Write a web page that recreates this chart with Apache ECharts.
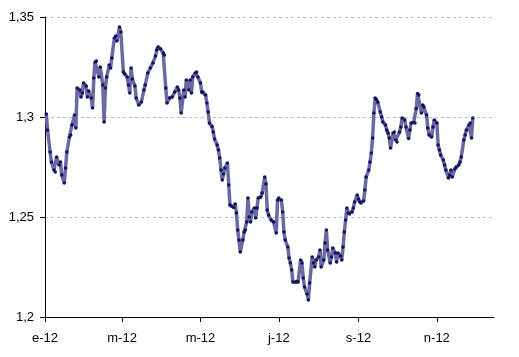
<!DOCTYPE html>
<html>
<head>
<meta charset="utf-8">
<script src="https://cdn.jsdelivr.net/npm/echarts@6/dist/echarts.min.js"></script>
<style>html,body{margin:0;padding:0;background:#fff}#c{width:519px;height:357px}</style>
</head>
<body>
<div id="c"></div>
<script>
// Day of year 2012 (0 = 1 Jan) for each observation
const days = [1,2,4,5,7,8,9,11,12,13,15,16,17,19,20,21,23,24,25,27,28,29,30,32,33,34,36,37,38,39,40,42,43,45,46,47,48,50,51,52,54,55,56,58,59,
61,62,64,65,66,67,68,70,71,73,75,77,78,80,82,84,86,87,88,90,92,93,94,95,97,99,101,103,104,105,106,108,109,110,112,113,114,115,117,118,119,121,122,123,125,
126,127,128,130,131,132,134,135,136,137,138,139,140,142,143,144,145,147,148,149,150,151,152,154,155,156,157,158,159,160,161,163,164,165,166,168,169,171,172,173,
174,176,178,180,181,182,184,185,186,187,189,190,191,192,193,195,196,197,199,200,201,202,204,205,206,208,209,210,211,213,214,215,217,218,219,220,222,223,224,226,
227,228,230,231,232,233,234,235,236,237,239,240,241,243,244,245,246,248,249,250,252,253,254,255,256,257,258,259,261,262,263,265,266,267,268,269,271,272,273,274,
276,277,278,280,281,283,284,285,287,288,289,290,291,293,294,295,297,298,299,301,302,303,305,306,307,308,310,311,312,314,315,316,317,319,320,322,323,324,326,327,
328,330,331,332,333];
// EUR/USD rate
const rates = [1.3015,1.2935,1.2825,1.2775,1.2735,1.2725,1.2800,1.2760,1.2775,1.2710,1.2670,1.2745,1.2825,1.2900,1.2910,1.2960,1.3010,1.2945,1.3145,1.3135,1.3100,1.3120,1.3170,1.3155,1.3100,1.3130,1.3095,1.3045,1.3195,1.3275,1.3280,1.3200,1.3250,1.3160,1.2975,1.3145,1.3200,1.3260,1.3245,1.3295,1.3395,1.3405,1.3380,1.3450,1.3425,
1.3225,1.3215,1.3200,1.3160,1.3120,1.3245,1.3190,1.3155,1.3095,1.3060,1.3075,1.3135,1.3160,1.3220,1.3245,1.3270,1.3305,1.3335,1.3350,1.3340,1.3320,1.3310,1.3145,1.3070,1.3095,1.3100,1.3125,1.3150,1.3135,1.3095,1.3020,1.3135,1.3100,1.3185,1.3135,1.3185,1.3120,1.3200,1.3220,1.3225,1.3200,1.3170,1.3125,1.3125,1.3110,
1.3070,1.3025,1.2970,1.2953,1.2925,1.2890,1.2860,1.2835,1.2795,1.2735,1.2685,1.2715,1.2745,1.2770,1.2660,1.2560,1.2555,1.2548,1.2565,1.2520,1.2435,1.2385,1.2325,1.2385,1.2425,1.2435,1.2475,1.2595,1.2500,1.2475,1.2525,1.2545,1.2495,1.2545,1.2595,1.2600,1.2620,1.2700,1.2665,1.2535,
1.2510,1.2485,1.2475,1.2420,1.2585,1.2595,1.2585,1.2525,1.2425,1.2385,1.2350,1.2295,1.2270,1.2235,1.2175,1.2175,1.2178,1.2175,1.2285,1.2270,1.2195,1.2150,1.2115,1.2085,1.2170,1.2300,1.2270,1.2250,1.2285,1.2300,1.2335,1.2250,1.2285,1.2370,1.2435,1.2335,1.2270,1.2300,1.2345,1.2320,
1.2275,1.2320,1.2305,1.2285,1.2350,1.2425,1.2485,1.2545,1.2520,1.2515,1.2525,1.2545,1.2575,1.2610,1.2590,1.2575,1.2570,1.2580,1.2635,1.2700,1.2735,1.2775,1.2820,1.2895,1.3020,1.3095,1.3088,1.3075,1.3025,1.3000,1.2975,1.2960,1.2935,1.2920,1.2895,1.2845,1.2920,1.2925,1.2885,1.2875,
1.2925,1.2950,1.2995,1.2985,1.2950,1.2893,1.2935,1.2970,1.2973,1.2970,1.3043,1.3118,1.3110,1.3020,1.3060,1.3050,1.3010,1.2945,1.2910,1.2900,1.2950,1.2985,1.2970,1.2860,1.2835,1.2810,1.2785,1.2760,1.2735,1.2695,1.2710,1.2735,1.2700,1.2740,1.2750,1.2760,1.2775,1.2800,1.2885,1.2910,
1.2935,1.2960,1.2970,1.2895,1.2995];
// x-axis ticks (day of year) and labels
const tickDays = [0, 60, 121, 182, 244, 305];
const tickLabels = ['e-12', 'm-12', 'm-12', 'j-12', 's-12', 'n-12'];
const axisEndDay = 349.5;

const seriesData = days.map((d, i) => [d, rates[i]]);
const chart = echarts.init(document.getElementById('c'), null, {renderer: 'canvas'});
const font = '"Liberation Sans", Arial, sans-serif';
chart.setOption({
  animation: false,
  backgroundColor: '#ffffff',
  grid: {left: 45, right: 25, top: 17, bottom: 40, containLabel: false},
  xAxis: {
    type: 'value', min: 0, max: axisEndDay,
    axisLine: {onZero: false, lineStyle: {color: '#000', width: 1}},
    axisTick: {show: true, length: 5, inside: false, customValues: tickDays, lineStyle: {color: '#000'}},
    axisLabel: {
      customValues: tickDays, margin: 15, color: '#000', fontSize: 13, fontFamily: font,
      formatter: v => { const i = tickDays.indexOf(Math.round(v)); return i >= 0 ? tickLabels[i] : ''; }
    },
    splitLine: {show: false}
  },
  yAxis: {
    type: 'value', min: 1.2, max: 1.35, interval: 0.05,
    axisLine: {show: true, lineStyle: {color: '#000', width: 1}},
    axisTick: {show: true, length: 5, lineStyle: {color: '#000'}},
    axisLabel: {margin: 11, color: '#000', fontSize: 13, fontFamily: font,
      formatter: v => String(parseFloat(v.toFixed(2))).replace('.', ',')},
    splitLine: {show: true, lineStyle: {color: '#bdbdbd', type: [3, 3], width: 1}}
  },
  series: [{
    type: 'line', data: seriesData,
    showSymbol: true, symbol: 'circle', symbolSize: 3.5,
    itemStyle: {color: '#14145e'},
    lineStyle: {color: '#6a6aa3', width: 3.5},
    emphasis: {disabled: true}
  }]
});
</script>
</body>
</html>
